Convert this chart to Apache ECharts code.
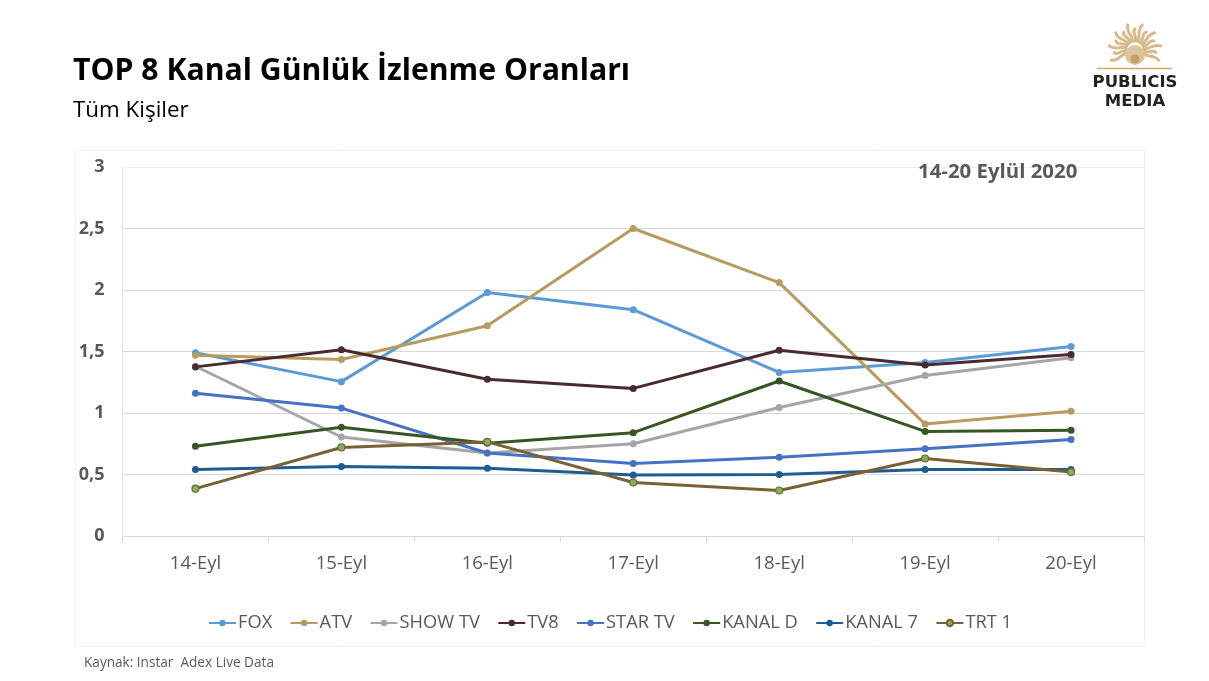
<!DOCTYPE html>
<html><head><meta charset="utf-8">
<style>html,body{margin:0;padding:0;background:#fff}#c{width:1209px;height:681px}</style>
<script src="https://cdn.jsdelivr.net/npm/echarts@6/dist/echarts.min.js"></script>
</head><body><div id="c"></div>
<script>
const categories = ['14-Eyl','15-Eyl','16-Eyl','17-Eyl','18-Eyl','19-Eyl','20-Eyl'];
const FOX = [1.49,1.255,1.98,1.84,1.33,1.41,1.54];
const ATV = [1.47,1.435,1.71,2.5,2.06,0.91,1.015];
const SHOW_TV = [1.38,0.805,0.675,0.75,1.045,1.305,1.45];
const TV8 = [1.375,1.515,1.275,1.2,1.51,1.39,1.475];
const STAR_TV = [1.16,1.04,0.675,0.59,0.64,0.71,0.785];
const KANAL_D = [0.73,0.885,0.755,0.84,1.26,0.85,0.86];
const KANAL_7 = [0.54,0.565,0.55,0.495,0.5,0.54,0.54];
const TRT_1 = [0.385,0.72,0.765,0.435,0.37,0.63,0.52];

const seriesDefs = [
 ['FOX',FOX,'#5b9bd5','#5b9bd5'],
 ['ATV',ATV,'#b89b5e','#b89b5e'],
 ['SHOW TV',SHOW_TV,'#a5a5a5','#a5a5a5'],
 ['TV8',TV8,'#4a2a2d','#4a2a2d'],
 ['STAR TV',STAR_TV,'#4472c4','#4472c4'],
 ['KANAL D',KANAL_D,'#375623','#375623'],
 ['KANAL 7',KANAL_7,'#1f5c91','#1f5c91'],
 ['TRT 1',TRT_1,'#7a6035','#7fb356']
];
const font = '"Open Sans","Noto Sans",sans-serif';
const gold = '#cda96f';
// decorative sun logo rays (curved flames)
const rays = [];
const cx = 1135, cy = 50;
for (let i = 0; i <= 14; i++) {
  const a = (-0.13 + 1.26 * i / 14) * Math.PI;
  const r = i % 2 ? 21 : 26;
  const b = a + 0.22, m = a - 0.16;
  rays.push({type:'bezierCurve',shape:{
     x1:cx+9*Math.cos(a),y1:cy-9*Math.sin(a),
     cpx1:cx+15*Math.cos(m),cpy1:cy-15*Math.sin(m),
     cpx2:cx+18*Math.cos(b),cpy2:cy-18*Math.sin(b),
     x2:cx+r*Math.cos(a),y2:Math.min(67,cy-r*Math.sin(a))},
    style:{stroke:gold,fill:'none',lineWidth:3,lineCap:'round',opacity:0.8},silent:true});
}
const chart = echarts.init(document.getElementById('c'),null,{renderer:'canvas'});
chart.setOption({
 animation:false,
 backgroundColor:'#fff',
 graphic:[
  {type:'rect',shape:{x:75.5,y:150.5,width:1069,height:496},style:{fill:'#fff',stroke:'#f0f0f0',lineWidth:1},z:-1},
  {type:'line',shape:{x1:122.5,y1:167.5,x2:1144,y2:167.5},style:{stroke:'#efefef',lineWidth:1},silent:true,z:0},
  {type:'text',left:73,top:56,style:{text:'TOP 8 Kanal Günlük İzlenme Oranları',font:'bold 30.2px '+font,fill:'#000'}},
  {type:'text',left:73,top:100,style:{text:'Tüm Kişiler',font:'22.4px '+font,fill:'#000'}},
  {type:'text',left:918,top:162,z:10,style:{text:'14-20 Eylül 2020',font:'bold 20.4px '+font,fill:'#595959'}},
  {type:'text',left:84,top:656,style:{text:'Kaynak: Instar  Adex Live Data',font:'13.6px '+font,fill:'#595959'}},
  ...rays,
  {type:'circle',shape:{cx:cx,cy:cy+5,r:10},style:{fill:'#dcc49c'},silent:true},
  {type:'circle',shape:{cx:cx,cy:cy+9,r:4.5},style:{fill:'#c79f63'},silent:true},
  {type:'line',shape:{x1:1097,y1:68.5,x2:1172,y2:68.5},style:{stroke:gold,lineWidth:1.5},silent:true},
  {type:'text',x:1135,y:74,style:{text:'PUBLICIS',font:'bold 16.5px "DejaVu Sans",sans-serif',fill:'#222',align:'center',letterSpacing:1.6}},
  {type:'text',x:1135,y:93,style:{text:'MEDIA',font:'bold 16.5px "DejaVu Sans",sans-serif',fill:'#222',align:'center',letterSpacing:1.6}}
 ],
 legend:{
  top:609,left:203,itemWidth:27,itemHeight:8,itemGap:17.4,
  textStyle:{fontFamily:font,fontSize:18.3,color:'#595959',padding:[0,0,0,-3]},
  data:seriesDefs.map(d=>d[0])
 },
 grid:{left:122.5,top:167,width:1021.5,height:369,containLabel:false},
 xAxis:{type:'category',data:categories,boundaryGap:true,
  axisLine:{lineStyle:{color:'#d9d9d9'}},
  axisTick:{show:true,alignWithLabel:false,length:6,lineStyle:{color:'#d9d9d9'}},
  axisLabel:{fontFamily:font,fontSize:18.5,color:'#595959',margin:18}},
 yAxis:{type:'value',min:0,max:3,interval:0.5,
  axisLine:{show:true,lineStyle:{color:'#e8e8e8'}},axisTick:{show:false},
  axisLabel:{fontFamily:font,fontSize:18,fontWeight:'bold',color:'#595959',margin:18,padding:[5,0,0,0],
    formatter:v=>String(v).replace('.',',')},
  splitLine:{showMaxLine:false,lineStyle:{color:'#d9d9d9'}}},
 series:seriesDefs.map(d=>({
  name:d[0],type:'line',data:d[1],symbol:'circle',symbolSize:7,
  showAllSymbol:true,
  lineStyle:{color:d[2],width:3},
  itemStyle:{color:d[3],borderColor:d[2],borderWidth:d[3]===d[2]?0:1.2}
 }))
});
</script></body></html>
